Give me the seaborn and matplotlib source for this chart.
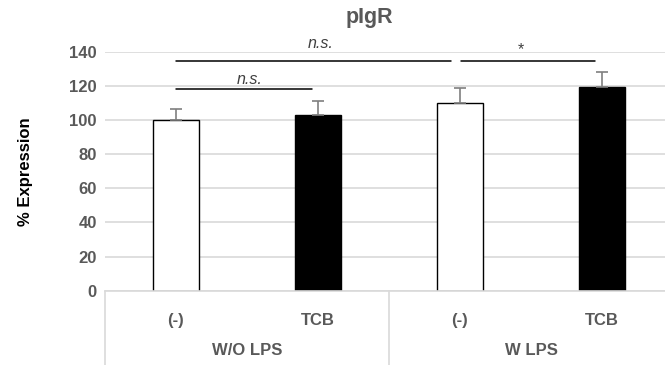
import matplotlib
matplotlib.use("Agg")
import matplotlib.pyplot as plt
import matplotlib.transforms as mtransforms
import seaborn as sns
import pandas as pd

groups = ["W/O LPS", "W/O LPS", "W LPS", "W LPS"]
treatments = ["(-)", "TCB", "(-)", "TCB"]
values = [100, 103, 110, 119.5]
errors = [6.5, 8, 9, 8.5]
yticks = [0, 20, 40, 60, 80, 100, 120, 140]
colors = ["white", "black", "white", "black"]

sns.set_theme(style="white")
plt.rcParams['font.family'] = ['Liberation Sans', 'DejaVu Sans']

df = pd.DataFrame({"key": [f"{g}|{t}" for g, t in zip(groups, treatments)],
                   "value": values})

fig = plt.figure(figsize=(6.65, 3.65), dpi=100)
ax = fig.add_axes([105/665, 74.3/365, 568/665, 239/365])

sns.barplot(data=df, x="key", y="value", hue="key", palette=colors, legend=False,
            width=0.32, edgecolor="black", linewidth=1.0, ax=ax, errorbar=None)
pos = list(range(len(values)))
ax.errorbar(pos, values, yerr=[[0]*len(errors), errors], fmt="none",
            ecolor="#7f7f7f", elinewidth=1.2, capsize=4, capthick=1.2, zorder=3)

ax.set_xlim(-0.5, 3.5)
ax.set_ylim(0, 140)
ax.set_yticks(yticks)
ax.set_yticklabels([str(v) for v in yticks], fontsize=12, fontweight="bold", color="#595959")
ax.yaxis.grid(True, color="#d9d9d9", linewidth=1.2)
ax.set_axisbelow(True)
for s in ["top", "right", "left"]:
    ax.spines[s].set_visible(False)
ax.spines["bottom"].set_color("#d9d9d9")
ax.spines["bottom"].set_linewidth(1.2)
ax.tick_params(axis="both", length=0, pad=6)
ax.set_xticks(pos)
ax.set_xticklabels(treatments, fontsize=12, fontweight="bold", color="#595959")
ax.tick_params(axis="x", pad=16)
ax.set_xlabel("")
ax.set_ylabel("% Expression", fontsize=12, fontweight="bold", color="black", labelpad=26)

trans = mtransforms.blended_transform_factory(ax.transData, ax.transAxes)
for xs in [-0.5, 1.5, 3.5]:
    ax.plot([xs, xs], [0, -0.4], transform=trans, color="#d9d9d9", lw=1.2, clip_on=False)
for gx, gname in [(0.5, "W/O LPS"), (2.5, "W LPS")]:
    ax.text(gx, -60/239, gname, transform=trans, ha="center", va="center",
            fontsize=12, fontweight="bold", color="#595959")

# significance annotations
sig_lines = [(0.0, 0.96, 118), (0.0, 1.94, 134.5), (2.01, 2.95, 134.5)]
for x0, x1, yy in sig_lines:
    ax.plot([x0, x1], [yy, yy], color="black", lw=1.1, clip_on=False)
ax.text(0.52, 124, "n.s.", ha="center", va="center", fontsize=11.5, style="italic", color="#404040")
ax.text(1.02, 145, "n.s.", ha="center", va="center", fontsize=11.5, style="italic", color="#404040", clip_on=False)
ax.text(2.43, 141, "*", ha="center", va="center", fontsize=11.5, color="#404040", clip_on=False)

fig.text(369/665, 1 - 18/365, "pIgR", ha="center", va="center", fontsize=15.5,
         fontweight="bold", color="#595959")

fig.savefig("out.png", dpi=100)
